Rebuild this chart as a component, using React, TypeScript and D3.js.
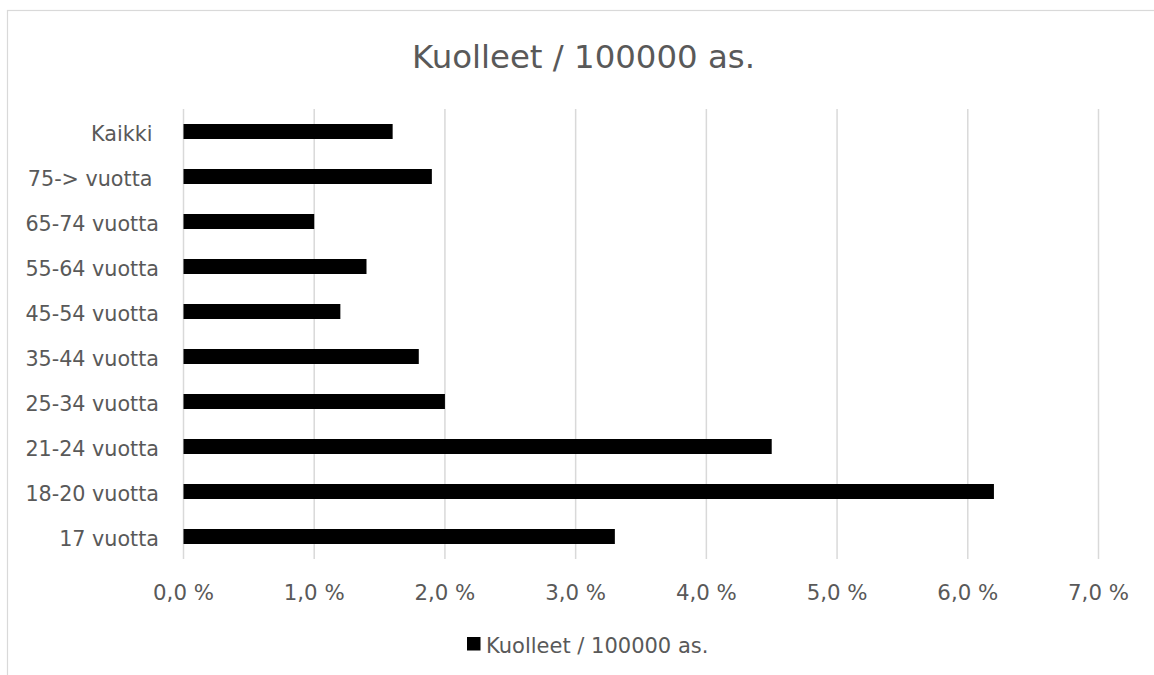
import { useEffect, useRef } from 'react';
import * as d3 from 'd3';

const categories = [
  'Kaikki ',
  '75-> vuotta ',
  '65-74 vuotta',
  '55-64 vuotta',
  '45-54 vuotta',
  '35-44 vuotta',
  '25-34 vuotta',
  '21-24 vuotta',
  '18-20 vuotta',
  '17 vuotta',
];
const values = [0.016, 0.019, 0.01, 0.014, 0.012, 0.018, 0.02, 0.045, 0.062, 0.033];
const xTicks = [0, 0.01, 0.02, 0.03, 0.04, 0.05, 0.06, 0.07];
const seriesName = 'Kuolleet / 100000 as.';
const title = 'Kuolleet / 100000 as.';

const App: React.FC = () => {
  const svgRef = useRef<SVGSVGElement | null>(null);

  useEffect(() => {
    if (!svgRef.current) return;
    const width = 1154;
    const height = 675;
    const font = '"DejaVu Sans", Verdana, sans-serif';
    const grey = '#595959';

    const svg = d3.select(svgRef.current);
    svg.selectAll('*').remove();
    svg.attr('width', width).attr('height', height);

    // chart frame (only top and left edge visible)
    svg.append('rect')
      .attr('x', 7.5).attr('y', 10.5)
      .attr('width', 1200).attr('height', 700)
      .attr('fill', '#fff')
      .attr('stroke', '#d9d9d9')
      .attr('stroke-width', 1.2);

    const x = d3.scaleLinear().domain([0, 0.07]).range([183.5, 1098.5]);
    const y = d3.scaleBand<string>()
      .domain(categories)
      .range([109, 559])
      .paddingInner(2 / 3)
      .paddingOuter(1 / 3);

    // gridlines
    svg.append('g')
      .selectAll('line')
      .data(xTicks)
      .join('line')
      .attr('x1', (d) => x(d))
      .attr('x2', (d) => x(d))
      .attr('y1', 109)
      .attr('y2', 559)
      .attr('stroke', '#d9d9d9')
      .attr('stroke-width', 1.5);

    // bars
    svg.append('g')
      .selectAll('rect')
      .data(categories)
      .join('rect')
      .attr('x', x(0))
      .attr('y', (d) => y(d)!)
      .attr('width', (d, i) => x(values[i]) - x(0))
      .attr('height', y.bandwidth())
      .attr('fill', '#000');

    // category labels
    svg.append('g')
      .selectAll('text')
      .data(categories)
      .join('text')
      .attr('x', 159)
      .attr('y', (d) => y(d)! + y.bandwidth() / 2 + 9)
      .attr('text-anchor', 'end')
      .style('white-space', 'pre')
      .attr('font-family', font)
      .attr('font-size', 20.7)
      .attr('fill', grey)
      .text((d) => d);

    // x axis tick labels
    const fmt = (d: number) => (d * 100).toFixed(1).replace('.', ',') + ' %';
    svg.append('g')
      .selectAll('text')
      .data(xTicks)
      .join('text')
      .attr('x', (d) => x(d))
      .attr('y', 600)
      .attr('text-anchor', 'middle')
      .attr('font-family', font)
      .attr('font-size', 21.3)
      .attr('fill', grey)
      .text((d) => fmt(d));

    // title
    svg.append('text')
      .attr('x', 583.5)
      .attr('y', 68)
      .attr('text-anchor', 'middle')
      .attr('font-family', font)
      .attr('font-size', 32.4)
      .attr('fill', grey)
      .text(title);

    // legend
    const lg = svg.append('g');
    lg.append('rect')
      .attr('x', 467).attr('y', 637)
      .attr('width', 13.5).attr('height', 13.5)
      .attr('fill', '#000');
    lg.append('text')
      .attr('x', 486)
      .attr('y', 653)
      .attr('font-family', font)
      .attr('font-size', 21)
      .attr('fill', grey)
      .text(seriesName);
  }, []);

  return (
    <div style={{ position: 'absolute', left: 0, top: 0 }}>
      <svg ref={svgRef} style={{ display: 'block' }}></svg>
    </div>
  );
};

export default App;
